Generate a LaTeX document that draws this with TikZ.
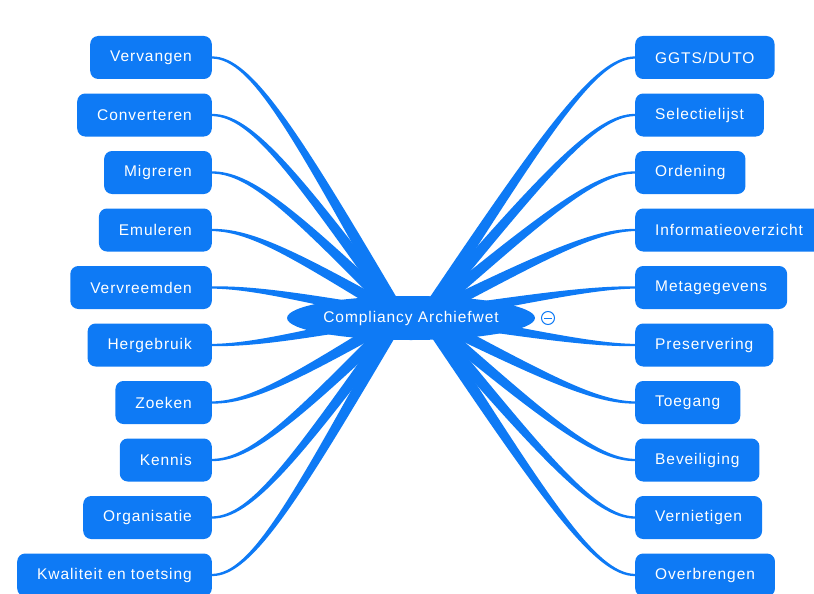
\documentclass[tikz,border=0pt]{standalone}
\usepackage{fontspec}
\setmainfont{Liberation Sans}
\newfontfamily\lblfont[LetterSpace=6]{Liberation Sans}
\usetikzlibrary{calc,shapes.geometric}
\definecolor{mmblue}{RGB}{14,122,245}
\pgfdeclarelayer{bg}
\pgfsetlayers{bg,main}
\tikzset{
  leaf/.style={fill=mmblue, rounded corners=8pt, text=white,
    font=\lblfont\fontsize{15.5}{18}\selectfont,
    minimum height=43pt, inner xsep=20pt, inner ysep=0pt},
  rootnode/.style={ellipse, fill=mmblue, text=white,
    font=\lblfont\fontsize{15.5}{18}\selectfont,
    minimum width=244pt, minimum height=44pt, inner sep=0pt},
  foldmark/.style={circle, draw=mmblue, line width=1pt, minimum size=13pt, inner sep=0pt},
}
\newcommand\mmbranch[5]{%
  \coordinate (bE) at (#1);
  \coordinate (bC) at (#2);
  \coordinate (b1) at ($(bE)+(#3,0)$);
  \coordinate (b2) at ($(b1)!0.3!(bC)$);
  \fill[mmblue] ($(bE)+(0,-1.1)$) .. controls ($(b1)+(0,-1.8)$) and ($(b2)!4pt!#4:(bC)$) .. ($(bC)!6.5pt!#5:(b2)$)
     -- ($(bC)!6.5pt!#4:(b2)$) .. controls ($(b2)!4pt!#5:(bC)$) and ($(b1)+(0,1.8)$) .. ($(bE)+(0,1.1)$) -- cycle;
}
\begin{document}
\begin{tikzpicture}[x=1pt,y=-1pt]
\useasboundingbox (0,0) rectangle (814,594);
\node[rootnode] (root) at (411,318) {Compliancy Archiefwet};
\coordinate (CL) at (400,316);
\coordinate (CR) at (425,316);
\node[foldmark] (fold) at (548,318) {};
\draw[mmblue, line width=1pt] ([xshift=3pt]fold.west) -- ([xshift=-3pt]fold.east);
\foreach \t [count=\i from 0] in {Vervangen, Converteren, Migreren, Emuleren, Vervreemden, Hergebruik, Zoeken, Kennis, Organisatie, Kwaliteit en toetsing} {
  \node[leaf, anchor=east] (l\i) at (212,{57.5+57.5*\i}) {\t};
  \begin{pgfonlayer}{bg}
    \mmbranch{l\i.east}{CL}{40}{90}{-90}
  \end{pgfonlayer}
}
\foreach \t [count=\i from 0] in {GGTS/DUTO, Selectielijst, Ordening, Informatieoverzicht, Metagegevens, Preservering, Toegang, Beveiliging, Vernietigen, Overbrengen} {
  \node[leaf, anchor=west] (r\i) at (635,{57.5+57.5*\i}) {\t};
  \begin{pgfonlayer}{bg}
    \mmbranch{r\i.west}{CR}{-40}{-90}{90}
  \end{pgfonlayer}
}
\end{tikzpicture}
\end{document}
